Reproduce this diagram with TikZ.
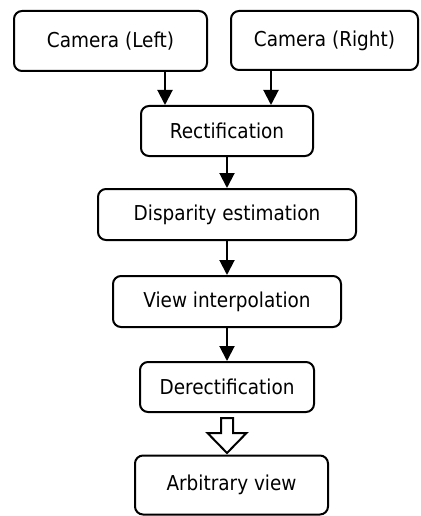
\documentclass[tikz,border=0pt]{standalone}
\usepackage{fontspec}
\setmainfont{DejaVu Sans Condensed}
\usetikzlibrary{arrows.meta,calc}

\begin{document}
\begin{tikzpicture}[x=1pt,y=-1pt,
    box/.style={draw,line width=2pt,rounded corners=8pt,inner sep=0pt,
        font=\fontsize{20.5}{24}\selectfont},
    flow/.style={line width=2pt,-{Triangle[width=15pt,length=15pt]}}]
    \useasboundingbox (0,0) rectangle (420,516);
    \node[box,minimum width=193pt,minimum height=60pt] (camL) at (110.5,41) {Camera (Left)};
    \node[box,minimum width=187pt,minimum height=59pt] (camR) at (324.5,40.5) {Camera (Right)};
    \node[box,minimum width=172pt,minimum height=50pt] (rect) at (227,131) {Rectification};
    \node[box,minimum width=258pt,minimum height=51pt] (disp) at (227,214.5) {Disparity estimation};
    \node[box,minimum width=228pt,minimum height=51pt] (view) at (227,301.5) {View interpolation};
    \node[box,minimum width=174pt,minimum height=50pt] (derect) at (227,387) {Derectification};
    \node[box,minimum width=193pt,minimum height=59pt] (arb) at (231.5,485) {Arbitrary view};
    \draw[flow] ([xshift=-62pt]rect.north |- camL.south) -- ([xshift=-62pt]rect.north);
    \draw[flow] ([xshift=44pt]rect.north |- camR.south) -- ([xshift=44pt]rect.north);
    \draw[flow] (rect) -- (disp);
    \draw[flow] (disp) -- (view);
    \draw[flow] (view) -- (derect);
    % hollow arrow to the output view
    \draw[line width=2pt] ($(derect.south)+(-6,5)$) -- ++(12,0) -- ++(0,15) -- ++(13.5,0)
        -- ++(-19.5,20) -- ++(-19.5,-20) -- ++(13.5,0) -- cycle;
\end{tikzpicture}
\end{document}
